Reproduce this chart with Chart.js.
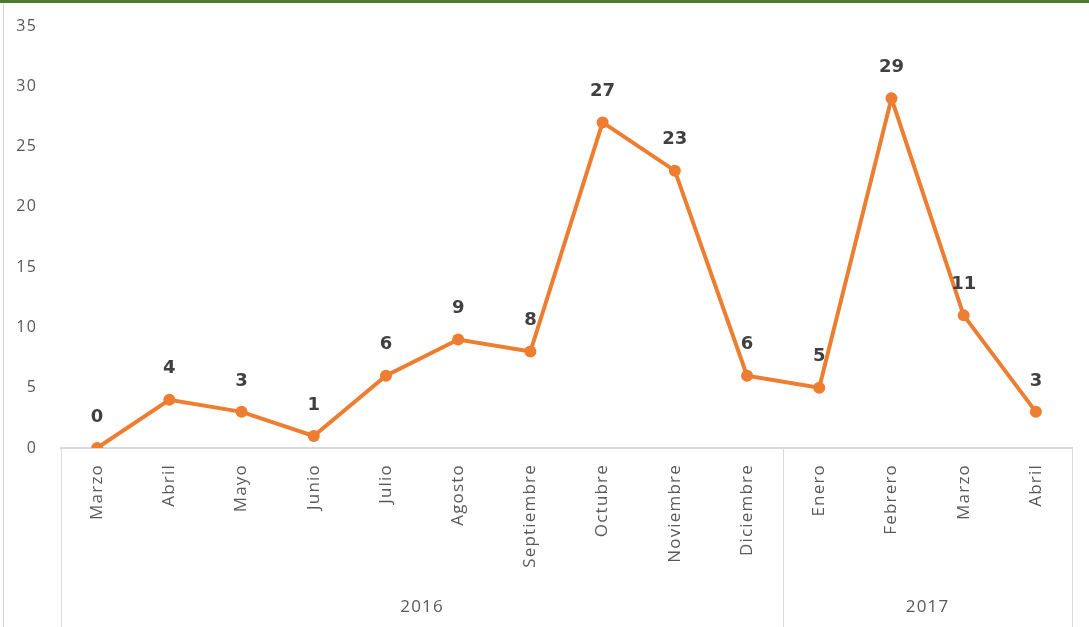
<!DOCTYPE html>
<html>
<head>
<meta charset="utf-8">
<script src="https://cdn.jsdelivr.net/npm/chart.js@4.4.0/dist/chart.umd.min.js"></script>
<style>
    html, body { margin: 0; padding: 0; background: #ffffff; }
    #wrap { width: 1089px; height: 627px; position: relative; }
</style>
</head>
<body>
<div id="wrap"><canvas id="casesChart" width="1089" height="627"></canvas></div>
<script>
// Chart data
const months = ['Marzo', 'Abril', 'Mayo', 'Junio', 'Julio', 'Agosto', 'Septiembre', 'Octubre',
    'Noviembre', 'Diciembre', 'Enero', 'Febrero', 'Marzo', 'Abril'];
const values = [0, 4, 3, 1, 6, 9, 8, 27, 23, 6, 5, 29, 11, 3];
const years = ['2016', '2017'];
const yearSpans = [10, 4]; // number of months under each year
const yTicks = [0, 5, 10, 15, 20, 25, 30, 35];

const lineColor = '#ED7D31';
const textGray = '#595959';
const axisGray = '#d9d9d9';

// Frame, year groups and point labels
const decorPlugin = {
    id: 'decor',
    beforeDraw(chart) {
        // the reference text is loosely spaced
        chart.ctx.letterSpacing = '1.2px';
    },
    afterDraw(chart) {
        const ctx = chart.ctx;
        const x = chart.scales.x;
        const area = chart.chartArea;
        const step = x.getPixelForTick(1) - x.getPixelForTick(0);

        ctx.save();
        // outer frame bits
        ctx.fillStyle = '#4e7a2c';
        ctx.fillRect(0, 0, chart.width, 3);
        ctx.fillStyle = '#d4d4d4';
        ctx.fillRect(3, 3, 1, chart.height - 3);

        // year group separators and labels
        ctx.strokeStyle = axisGray;
        ctx.lineWidth = 1;
        ctx.fillStyle = textGray;
        ctx.font = '17px "Open Sans"';
        ctx.textAlign = 'center';
        ctx.textBaseline = 'middle';
        let start = 0;
        const edges = [x.getPixelForTick(0) - step / 2];
        years.forEach((yr, i) => {
            const end = start + yearSpans[i] - 1;
            const left = x.getPixelForTick(start) - step / 2;
            const right = x.getPixelForTick(end) + step / 2;
            edges.push(right);
            ctx.fillText(yr, (left + right) / 2, 607);
            start = end + 1;
        });
        edges.forEach(px => {
            const xx = Math.round(px) + 0.5;
            ctx.beginPath();
            ctx.moveTo(xx, area.bottom);
            ctx.lineTo(xx, chart.height);
            ctx.stroke();
        });

        // value labels above points
        ctx.letterSpacing = '0px';
        ctx.fillStyle = '#404040';
        ctx.font = 'bold 18px "DejaVu Sans"';
        const meta = chart.getDatasetMeta(0);
        meta.data.forEach((pt, i) => {
            ctx.fillText(String(values[i]), pt.x, pt.y - 31);
        });
        ctx.restore();
    }
};

new Chart(document.getElementById('casesChart'), {
    type: 'line',
    data: {
        labels: months,
        datasets: [{
            data: values,
            borderColor: lineColor,
            backgroundColor: lineColor,
            borderWidth: 4,
            pointRadius: 6,
            pointHoverRadius: 6,
            pointBorderWidth: 0,
            tension: 0
        }]
    },
    options: {
        responsive: false,
        animation: false,
        devicePixelRatio: 1,
        layout: {
            padding: { top: 26, right: 17, bottom: 0, left: 0 }
        },
        plugins: {
            legend: { display: false },
            tooltip: { enabled: false }
        },
        scales: {
            x: {
                type: 'category',
                offset: true,
                grid: { display: false },
                border: { display: true, color: axisGray, width: 2 },
                ticks: {
                    minRotation: 90,
                    maxRotation: 90,
                    autoSkip: false,
                    padding: 8,
                    color: textGray,
                    font: { family: 'Open Sans', size: 17 }
                },
                afterFit(scale) { scale.height = 179; }
            },
            y: {
                min: 0,
                max: 35,
                grid: { display: false },
                border: { display: false },
                afterBuildTicks(scale) {
                    scale.ticks = yTicks.map(v => ({ value: v }));
                },
                ticks: {
                    padding: 16,
                    color: textGray,
                    font: { family: 'Open Sans', size: 16 }
                },
                afterFit(scale) { scale.width = 61; }
            }
        }
    },
    plugins: [decorPlugin]
});
</script>
</body>
</html>
